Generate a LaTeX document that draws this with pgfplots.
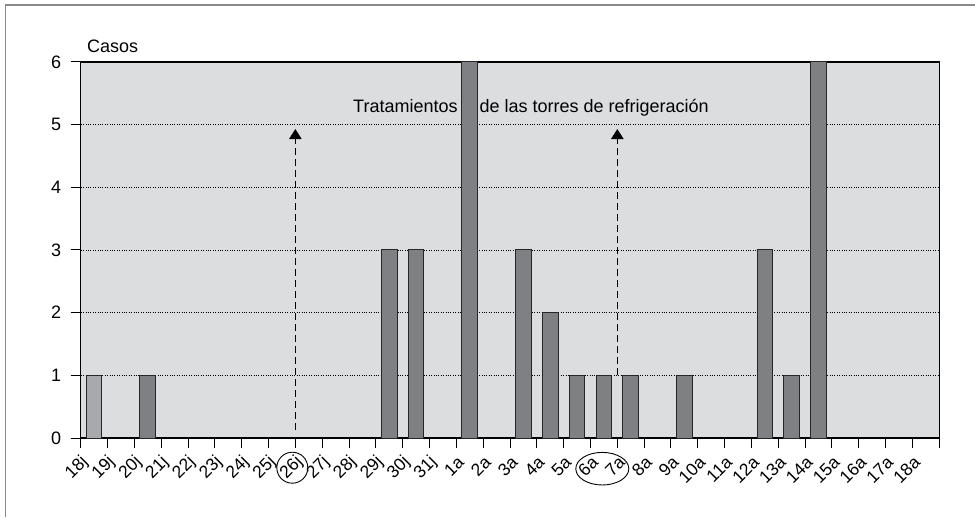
\documentclass[border=0pt]{standalone}
\usepackage{pgfplots}
\pgfplotsset{compat=1.18}
\usepackage{fontspec}
\setmainfont{Liberation Sans}
\usetikzlibrary{arrows.meta}
\definecolor{bg}{HTML}{DCDDDF}
\definecolor{darkbar}{HTML}{7F8084}
\definecolor{lightbar}{HTML}{A8A9AC}
\definecolor{framegray}{HTML}{8A8A8A}
\begin{document}
\begin{tikzpicture}
\path[use as bounding box] (0pt,0pt) rectangle (975pt,517pt);
\draw[framegray, line width=1.3pt] (5.7pt,0pt) -- (5.7pt,512pt) -- (975pt,512pt);
\begin{axis}[
  at={(80.7pt,79pt)}, anchor=south west,
  scale only axis, width=858.6pt, height=376pt,
  xmin=0, xmax=32, ymin=0, ymax=6,
  xtick={0,...,32},
  xticklabels={18j,19j,20j,21j,22j,23j,24j,25j,26j,27j,28j,29j,30j,31j,1a,2a,3a,4a,5a,6a,7a,8a,9a,10a,11a,12a,13a,14a,15a,16a,17a,18a,{}},
  ytick={0,...,6},
  xtick pos=bottom, ytick pos=left,
  axis background/.style={fill=bg},
  ymajorgrids,
  grid style={black, dotted, line width=0.9pt},
  tick align=outside, major tick length=10pt,
  tick style={black, line width=1pt},
  axis line style={black, line width=1.2pt},
  /pgf/number format/assume math mode=true,
  yticklabel style={font=\fontsize{18}{20}\selectfont, xshift=-6pt},
  xticklabel style={xshift=7pt, yshift=-9pt, rotate=45, anchor=east, font=\fontsize{17.5}{19}\selectfont},
  clip=false,
]
\node[anchor=base west, font=\fontsize{18}{20}\selectfont, inner sep=0pt] at (axis cs:10.15,5.19) {Tratamientos\hspace{22pt}de las torres de refrigeración};
\addplot[ybar, bar width=0.58, fill=lightbar, draw=black!85, line width=1pt] coordinates {(0.5,1)};
\addplot[ybar, bar width=0.58, fill=darkbar, draw=black!85, line width=1pt] coordinates {(2.5,1) (11.5,3) (12.5,3) (14.5,6) (16.5,3) (17.5,2) (18.5,1) (19.5,1) (20.5,1) (22.5,1) (25.5,3) (26.5,1) (27.5,6)};
\addplot[black, line width=1pt, dash pattern=on 7pt off 4pt, -{Triangle[width=12.5pt,length=10pt]}] coordinates {(8,0.13) (8,4.93)};
\addplot[black, line width=1pt, dash pattern=on 7pt off 4pt, -{Triangle[width=12.5pt,length=10pt]}] coordinates {(20,1) (20,4.93)};
\end{axis}
\node[anchor=base west, font=\fontsize{18}{20}\selectfont, inner sep=0pt] at (87pt,464.3pt) {Casos};
\draw[black, line width=0.9pt] (292.3pt,49.3pt) circle (15.5pt);
\draw[black, line width=0.9pt] (602.3pt,48.3pt) ellipse (26.5pt and 16.3pt);
\end{tikzpicture}
\end{document}
